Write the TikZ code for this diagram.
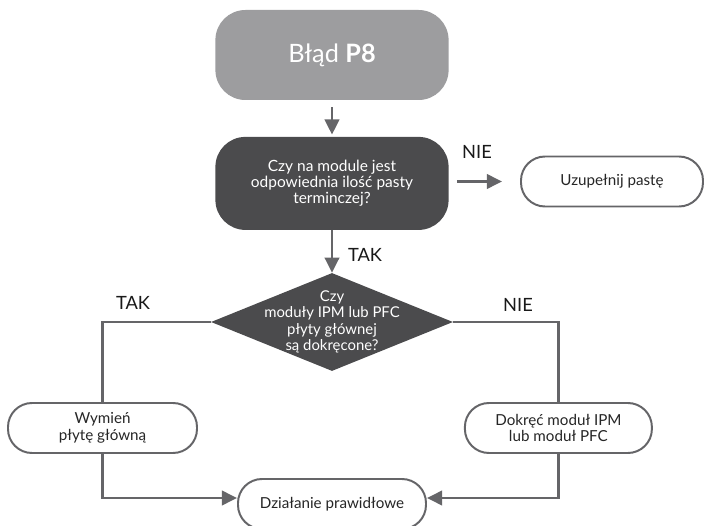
\documentclass[tikz,border=0pt]{standalone}
\usepackage{fontspec}
\setmainfont{Lato}
\usepackage{xcolor}
\definecolor{startgray}{HTML}{9D9D9F}
\definecolor{questdark}{HTML}{4B4B4D}
\definecolor{linegray}{HTML}{656568}
\usetikzlibrary{arrows.meta,shapes.geometric}

\begin{document}
\begin{tikzpicture}[
  startbox/.style={fill=startgray, rounded corners=0.75cm, minimum width=5.83cm, minimum height=2.25cm, text=white, font=\fontsize{18}{21}\selectfont},
  questbox/.style={fill=questdark, rounded corners=0.75cm, minimum width=5.83cm, minimum height=2.325cm, text=white, align=center, font=\fontsize{11}{11.6}\selectfont},
  decision/.style={diamond, fill=questdark, minimum width=6.05cm, minimum height=2.45cm, inner sep=0pt},
  endbox/.style={draw=linegray, line width=1.4pt, fill=white, rounded corners=0.6cm, minimum height=1.25cm, align=center, text=black!85, font=\fontsize{10.8}{12}\selectfont},
  flow/.style={draw=linegray, line width=2.1pt, -{Triangle[length=0.38cm,width=0.36cm]}},
  link/.style={draw=linegray, line width=2.1pt},
  answer/.style={text=black!90, font=\fontsize{13}{15}\selectfont}
]
\useasboundingbox (0,0) rectangle (17.6,13.125);

\node[startbox] (start) at (8.3,11.75) {Błąd \textbf{P8}};
\node[questbox] (quest) at (8.3,8.54) {Czy na module jest\\odpowiednia ilość pasty\\terminczej?};
\node[endbox, minimum width=4.55cm] (paste) at (15.3,8.5875) {Uzupełnij pastę};
\node[decision] (check) at (8.3,5.075) {};
\node[align=center, text=white, font=\fontsize{10.6}{11.7}\selectfont] (checktext) at (check) {Czy\\moduły IPM lub PFC\\płyty głównej\\są dokręcone?};
\node[endbox, minimum width=4.725cm] (replace) at (2.5625,2.425) {Wymień\\płytę główną};
\node[endbox, minimum width=4.675cm] (tighten) at (13.96,2.425) {Dokręć moduł IPM\\lub moduł PFC};
\node[endbox, minimum width=4.7cm] (ok) at (8.3,0.525) {Działanie prawidłowe};

\node[answer] (nie1) at (11.925,9.325) {NIE};
\node[answer] (tak1) at (9.125,6.75) {TAK};
\node[answer] (tak2) at (3.325,5.55) {TAK};
\node[answer] (nie2) at (12.95,5.5) {NIE};

\draw[flow, shorten <=0.18cm, shorten >=0.05cm] (start) -- (quest);
\draw[flow, shorten <=0.2cm, shorten >=0.45cm] (quest.east |- paste) -- (paste);
\draw[flow] (quest) -- (check);
\draw[link] (check.west) -| (replace);
\draw[link] (check.east) -| (tighten);
\draw[flow] (replace) |- ([yshift=0.15cm]ok.west);
\draw[flow] (tighten) |- ([yshift=0.15cm]ok.east);
\end{tikzpicture}
\end{document}
